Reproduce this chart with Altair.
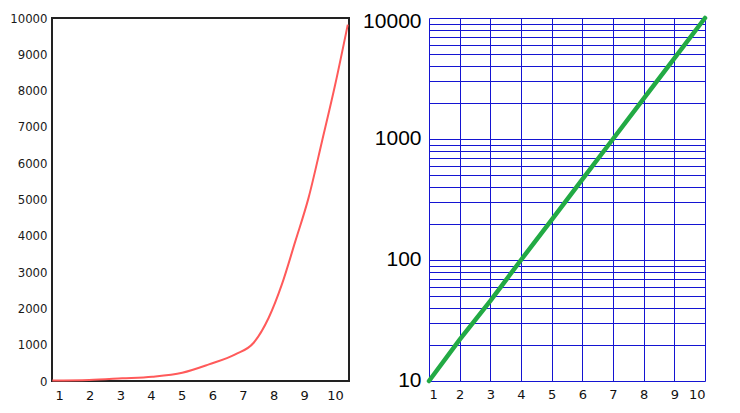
import altair as alt
import pandas as pd

# Left panel: curve (x in axis units, y linear)
left_x = [0.78, 1.98, 3.06, 4.04, 5.02, 5.89, 6.75, 7.35, 7.84, 8.27, 8.71, 9.14, 9.58, 10.01, 10.42]
left_y = [15, 28, 73, 119, 229, 459, 734, 1054, 1742, 2661, 3853, 5045, 6606, 8166, 9818]

# Right panel: straight line on log axis
right_x = [1, 2, 3, 4, 5, 6, 7, 8, 9, 10]
right_y = [10, 22, 46, 100, 215, 464, 1000, 2154, 4642, 10000]

x_ticks = [1, 2, 3, 4, 5, 6, 7, 8, 9, 10]
left_y_ticks = [0, 1000, 2000, 3000, 4000, 5000, 6000, 7000, 8000, 9000, 10000]
log_grid = [10, 20, 30, 40, 50, 60, 70, 80, 90,
            100, 200, 300, 400, 500, 600, 700, 800, 900,
            1000, 2000, 3000, 4000, 5000, 6000, 7000, 8000, 9000, 10000]
log_labels = ["10", "100", "1000", "10000"]

left_df = pd.DataFrame({"x": left_x, "y": left_y})
right_df = pd.DataFrame({"x": right_x, "y": right_y})

left = alt.Chart(left_df).mark_line(color="#ff5a5a", strokeWidth=2, interpolate="monotone").encode(
    x=alt.X("x:Q", scale=alt.Scale(domain=[0.77, 10.46], nice=False, zero=False),
            axis=alt.Axis(values=x_ticks, title=None, grid=False, ticks=False, domain=False,
                          labelFont="DejaVu Sans", labelFontSize=13, labelColor="#111",
                          labelPadding=8, labelOverlap=False)),
    y=alt.Y("y:Q", scale=alt.Scale(domain=[0, 10000], nice=False),
            axis=alt.Axis(values=left_y_ticks, format="d", title=None, grid=False, ticks=False,
                          domain=False, labelFont="DejaVu Sans Condensed, sans-serif",
                          labelFontSize=13, labelColor="#1a1a1a", labelPadding=5, labelOverlap=False)),
).properties(width=297, height=363, view=alt.ViewBackground(stroke="#222222", strokeWidth=2))

label_expr = "indexof(" + str(log_labels) + ", datum.label) >= 0 ? datum.label : ''"

right = alt.Chart(right_df).mark_line(color="#22aa44", strokeWidth=4.5, strokeCap="round").encode(
    x=alt.X("x:Q", scale=alt.Scale(domain=[1, 10], nice=False, zero=False),
            axis=alt.Axis(values=x_ticks, title=None, grid=True, gridColor="#1414d2", gridOpacity=1,
                          gridWidth=1, ticks=False, domain=False,
                          labelFont="DejaVu Sans", labelFontSize=13, labelColor="#111",
                          labelPadding=7, labelOverlap=False)),
    y=alt.Y("y:Q", scale=alt.Scale(type="log", domain=[10, 10000], nice=False),
            axis=alt.Axis(values=log_grid, format="d", labelExpr=label_expr, title=None, grid=True,
                          gridColor="#1414d2", gridOpacity=1, gridWidth=1, ticks=False, domain=False,
                          labelFont="Liberation Sans, Arial, sans-serif", labelFontSize=21,
                          labelOffset={"condition": {"test": "datum.value >= 10000", "value": 3}, "value": -1},
                          labelColor="#000000", labelPadding=8, labelOverlap=False)),
).properties(width=276, height=363, view=alt.ViewBackground(stroke="transparent"))

chart = alt.hconcat(left, right, spacing=9).properties(
    padding={"left": 0, "top": 0, "right": 5, "bottom": 0}
).configure(background="white")

chart.save("out.html", embed_options={"renderer": "svg", "actions": False})
